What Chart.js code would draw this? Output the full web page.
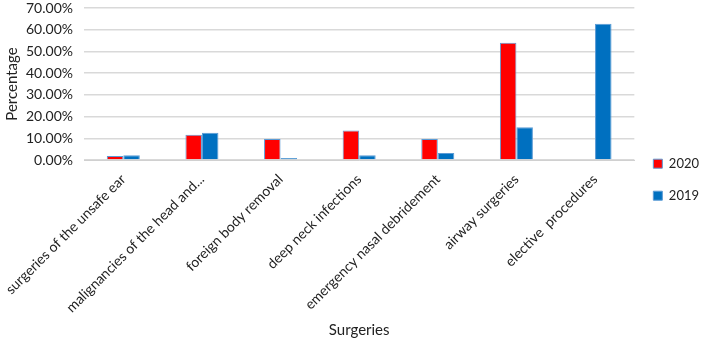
<!DOCTYPE html>
<html>
<head>
<meta charset="utf-8">
<script src="https://cdn.jsdelivr.net/npm/chart.js@4/dist/chart.umd.min.js"></script>
<style>
  html, body { margin: 0; padding: 0; background: #fff; }
  #wrap { width: 709px; height: 345px; }
</style>
</head>
<body>
<div id="wrap"><canvas id="chart"></canvas></div>
<script>
// categories and values (percent)
const surgeries = [
  'surgeries of the unsafe ear',
  'malignancies of the head and...',
  'foreign body removal',
  'deep neck infections',
  'emergency nasal debridement',
  'airway surgeries',
  'elective  procedures'
];
const values2020 = [1.8, 11.6, 9.7, 13.6, 9.7, 54.0, 0];
const values2019 = [2.2, 12.6, 0.9, 2.2, 3.2, 15.1, 62.8];
const yTicks = [0, 10, 20, 30, 40, 50, 60, 70];

const fontFamily = "Lato, 'Open Sans', sans-serif";
Chart.defaults.font.family = fontFamily;
Chart.defaults.color = '#222';

new Chart(document.getElementById('chart'), {
  type: 'bar',
  data: {
    labels: surgeries,
    datasets: [{
      label: '2020',
      data: values2020,
      backgroundColor: '#ff0000',
      borderColor: '#5b9bd5',
      borderWidth: 1
    }, {
      label: '2019',
      data: values2019,
      backgroundColor: '#0070c0',
      borderColor: '#5b9bd5',
      borderWidth: 1
    }]
  },
  options: {
    responsive: true,
    maintainAspectRatio: false,
    animation: false,
    datasets: {
      bar: { categoryPercentage: 0.42, barPercentage: 1 }
    },
    layout: { padding: { top: 0, right: 0, left: 0, bottom: 4 } },
    plugins: {
      tooltip: { enabled: false },
      legend: {
        position: 'right',
        title: { display: true, text: ' ', font: { size: 2 }, padding: 8 },
        labels: {
          boxWidth: 9,
          boxHeight: 9,
          padding: 19,
          font: { size: 13 },
          color: '#222'
        }
      }
    },
    scales: {
      x: {
        grid: { display: false },
        border: { color: '#d0d0d0' },
        afterFit: function(scale) {
          // let the first rotated label run into the left margin
          scale.paddingLeft = 0;
          // taller than chart.js' half-height cap
          scale.height = 181;
        },
        ticks: {
          minRotation: 45,
          maxRotation: 45,
          autoSkip: false,
          font: { size: 14 },
          color: '#222'
        },
        title: {
          display: true,
          text: 'Surgeries',
          font: { size: 15 },
          color: '#222',
          padding: { top: 10, bottom: 2 }
        }
      },
      y: {
        min: 0,
        max: 70,
        afterBuildTicks: function(axis) {
          // minor lines every 2%, labels only at 10%
          const t = [];
          for (let v = 0; v <= 70; v += 2) t.push({ value: v });
          axis.ticks = t;
        },
        afterFit: function(scale) {
          scale.paddingTop = 8;
          scale.width = 84;
        },
        grid: {
          color: function(ctx) {
            const v = ctx.tick ? ctx.tick.value : 0;
            return yTicks.includes(v) ? '#d9d9d9' : '#f0f0f0';
          },
          lineWidth: function(ctx) {
            const v = ctx.tick ? ctx.tick.value : 0;
            return yTicks.includes(v) ? 1.5 : 1;
          },
          drawTicks: false
        },
        border: { display: false },
        ticks: {
          padding: 11,
          font: { size: 14 },
          color: '#222',
          callback: function(v) {
            return yTicks.includes(v) ? v.toFixed(2) + '%' : '';
          }
        },
        title: {
          display: true,
          text: 'Percentage',
          font: { size: 15 },
          color: '#222',
          padding: { top: 3, bottom: 2 }
        }
      }
    }
  }
});
</script>
</body>
</html>
